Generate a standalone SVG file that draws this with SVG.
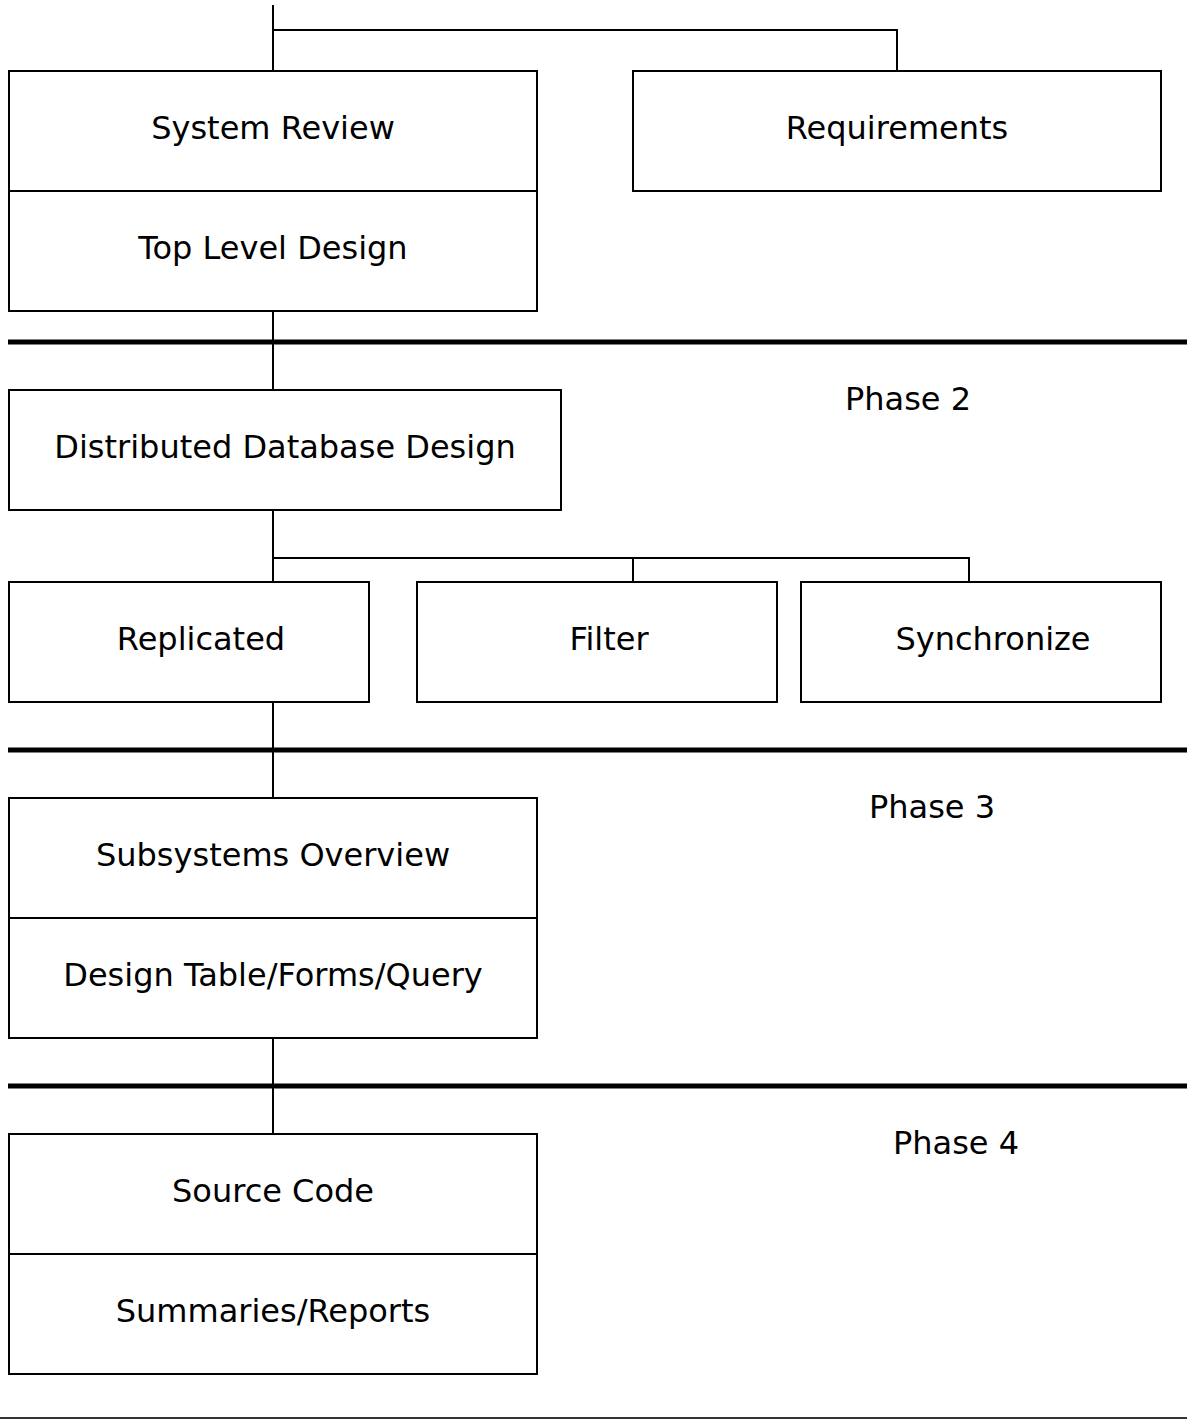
<svg xmlns="http://www.w3.org/2000/svg" width="1187" height="1420" viewBox="0 0 1187 1420">
  <style>
    .box { fill: #fff; stroke: #000; stroke-width: 2; }
    .lbl { font-family: "DejaVu Sans", Verdana, sans-serif; font-size: 32px; fill: #000; text-anchor: middle; }
    .wire { fill: none; stroke: #000; stroke-width: 2; }
    .rule { stroke: #000; stroke-width: 5; }
  </style>
  <rect width="1187" height="1420" fill="#fff"/>

  <!-- connectors -->
  <g id="connectors">
    <path class="wire" d="M273 5V71M273 30H897V71"/>
    <path class="wire" d="M273 311V390"/>
    <path class="wire" d="M273 510V582M273 558H969V582M633 558V582"/>
    <path class="wire" d="M273 702V798"/>
    <path class="wire" d="M273 1038V1134"/>
  </g>

  <!-- phase separators -->
  <g id="separators">
    <line class="rule" x1="8" y1="342" x2="1187" y2="342"/>
    <line class="rule" x1="8" y1="750" x2="1187" y2="750"/>
    <line class="rule" x1="8" y1="1086" x2="1187" y2="1086"/>
    <line x1="0" y1="1418" x2="1187" y2="1418" stroke="#333" stroke-width="2"/>
  </g>

  <g id="system-review">
    <rect class="box" x="9" y="71" width="528" height="120"/>
    <text class="lbl" x="273" y="139">System Review</text>
  </g>
  <g id="top-level-design">
    <rect class="box" x="9" y="191" width="528" height="120"/>
    <text class="lbl" x="273" y="259">Top Level Design</text>
  </g>
  <g id="requirements">
    <rect class="box" x="633" y="71" width="528" height="120"/>
    <text class="lbl" x="897" y="139">Requirements</text>
  </g>

  <g id="phase-2">
    <text class="lbl" x="908" y="410">Phase 2</text>
  </g>
  <g id="distributed-database-design">
    <rect class="box" x="9" y="390" width="552" height="120"/>
    <text class="lbl" x="285" y="458">Distributed Database Design</text>
  </g>
  <g id="replicated">
    <rect class="box" x="9" y="582" width="360" height="120"/>
    <text class="lbl" x="201" y="650">Replicated</text>
  </g>
  <g id="filter">
    <rect class="box" x="417" y="582" width="360" height="120"/>
    <text class="lbl" x="609" y="650">Filter</text>
  </g>
  <g id="synchronize">
    <rect class="box" x="801" y="582" width="360" height="120"/>
    <text class="lbl" x="993" y="650">Synchronize</text>
  </g>

  <g id="phase-3">
    <text class="lbl" x="932" y="818">Phase 3</text>
  </g>
  <g id="subsystems-overview">
    <rect class="box" x="9" y="798" width="528" height="120"/>
    <text class="lbl" x="273" y="866">Subsystems Overview</text>
  </g>
  <g id="design-table-forms-query">
    <rect class="box" x="9" y="918" width="528" height="120"/>
    <text class="lbl" x="273" y="986">Design Table/Forms/Query</text>
  </g>

  <g id="phase-4">
    <text class="lbl" x="956" y="1154">Phase 4</text>
  </g>
  <g id="source-code">
    <rect class="box" x="9" y="1134" width="528" height="120"/>
    <text class="lbl" x="273" y="1202">Source Code</text>
  </g>
  <g id="summaries-reports">
    <rect class="box" x="9" y="1254" width="528" height="120"/>
    <text class="lbl" x="273" y="1322">Summaries/Reports</text>
  </g>
</svg>
